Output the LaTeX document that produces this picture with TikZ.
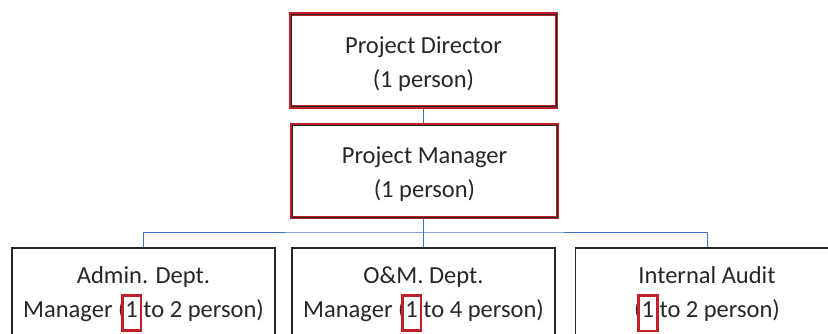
\documentclass[tikz,border=0pt]{standalone}
\usepackage{fontspec}
\setmainfont{Carlito}
\definecolor{boxred}{HTML}{C0202A}
\definecolor{linkblue}{HTML}{4472C4}
\definecolor{ink}{HTML}{262626}
% red frame round a single figure, set so that it moves no text
\newcommand\markone[1]{\smash{\makebox[0pt][l]{\hspace*{-4.6pt}%
  \raisebox{-12pt}{\color{boxred}\setlength\fboxrule{2.8pt}\setlength\fboxsep{0pt}%
  \fbox{\rule{0pt}{32.7pt}\hspace{16pt}}}}}#1}
\begin{document}
\begin{tikzpicture}[x=1pt, y=-1pt,
  font=\fontsize{24.5}{34}\selectfont, text=ink,
  txt/.style={align=center, inner sep=0pt},
  headbox/.style={draw=boxred, line width=3.6pt, minimum width=266pt,
                  minimum height=93pt, inner sep=0pt},
  unitbox/.style={draw=ink, line width=1.6pt, minimum width=263pt,
                  minimum height=120pt, anchor=north, inner sep=0pt},
  conn/.style={draw=linkblue, line width=1pt}]
\useasboundingbox (0,0) rectangle (828,333);
\clip (0,0) rectangle (828,333);

% upper two levels: red frame with a thin dark line just inside it
\node[headbox] (pd) at (423.5,60.5) {};
\node[headbox] (pm) at (424.5,171) {};
\foreach \n in {pd,pm}
  \draw[ink, line width=0.8pt] ([shift={(2.4pt,-2.4pt)}]\n.north west) rectangle ([shift={(-2.4pt,2.4pt)}]\n.south east);
\node[txt] (pdt) at (423.5,64) {Project Director\\(1 person)};
\node[txt] (pmt) at (424.5,174.5) {Project Manager\\(1 person)};

% departments
\node[unitbox] (admin) at (143.5,247) {};
\node[unitbox] (om) at (423.5,247) {};
\node[unitbox] (audit) at (707,247) {};
\node[txt] (admint) at (143.5,294) {Admin. Dept.\\Manager (\markone{1} to 2 person)};
\node[txt] (omt) at (423.5,294) {O\&M. Dept.\\Manager (\markone{1} to 4 person)};
\node[txt] (auditt) at (707,294) {Internal Audit\\(\markone{1} to 2 person)};

% connectors
\coordinate (bus) at (423.5,232);
\draw[conn] (pd.south -| bus) -- (pm.north -| bus);
\draw[conn] (pm.south -| bus) -- (om.north);
\draw[conn] (admin.north) |- (bus) -| (audit.north);
\end{tikzpicture}
\end{document}
